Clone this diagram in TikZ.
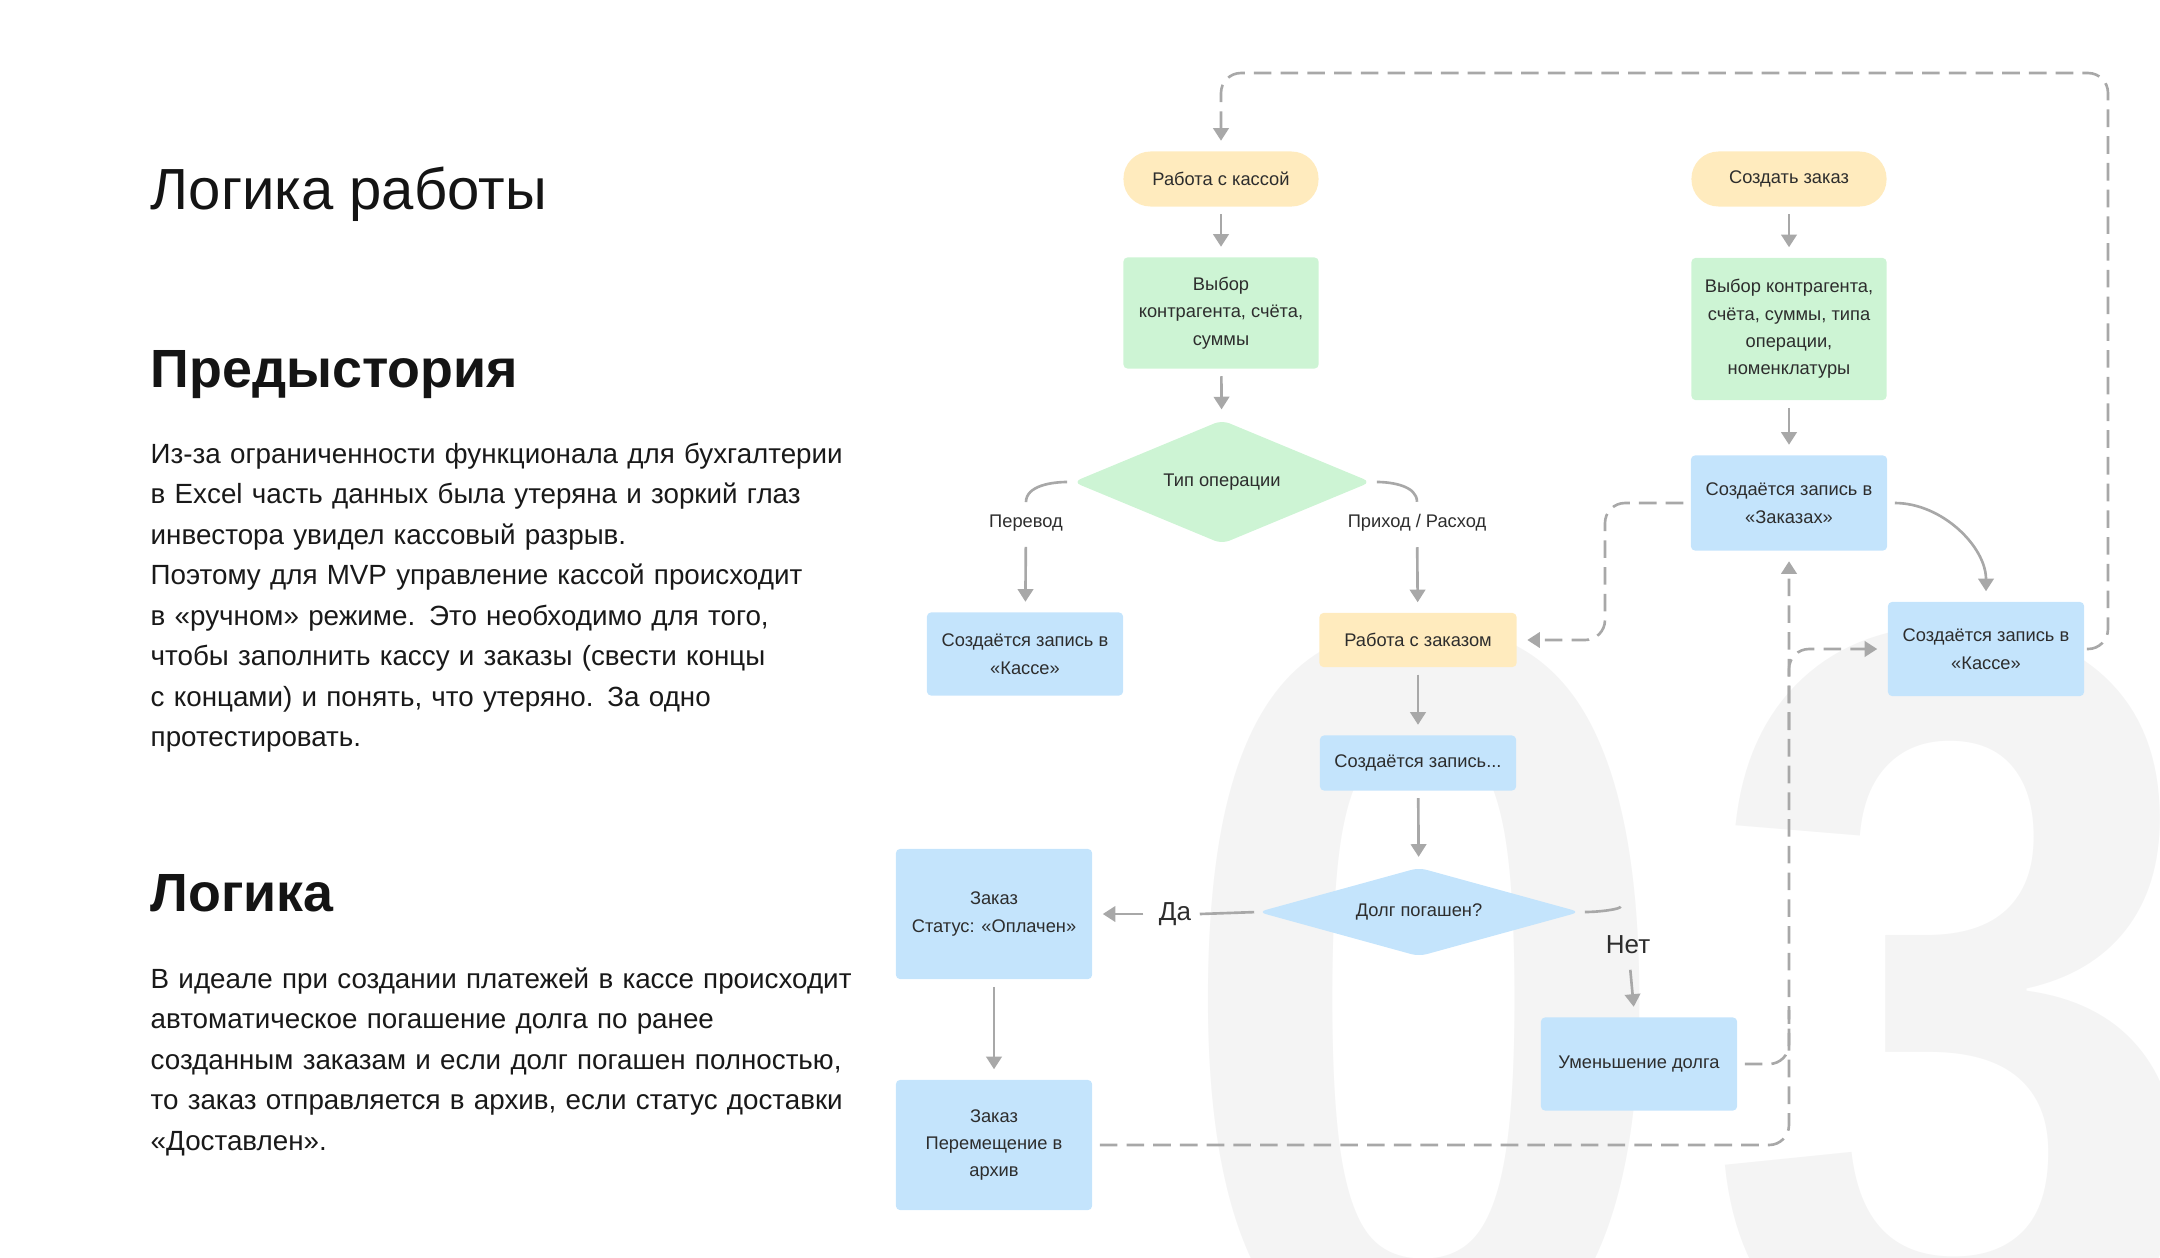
\documentclass[tikz,border=0pt]{standalone}
\usepackage{fontspec}
\setmainfont{Liberation Sans}
\usetikzlibrary{positioning,arrows.meta,shapes.geometric}
\definecolor{boxyellow}{RGB}{255,235,190}
\definecolor{boxgreen}{RGB}{205,244,212}
\definecolor{boxblue}{RGB}{196,228,252}
\definecolor{linkgray}{RGB}{168,168,168}
\definecolor{markgray}{RGB}{244,244,244}
\definecolor{inkdark}{RGB}{45,45,45}

\begin{document}
\begin{tikzpicture}[x=0.01cm, y=0.01cm,
  nodetxt/.style={font=\fontsize{5.2}{7.8}\selectfont, text=inkdark,
                  align=center, inner sep=0pt},
  startpill/.style={nodetxt, fill=boxyellow, rounded corners=0.27cm,
                    minimum width=1.95cm, minimum height=0.55cm},
  choosebox/.style={nodetxt, fill=boxgreen, rounded corners=0.04cm,
                    minimum width=1.95cm},
  recbox/.style={nodetxt, fill=boxblue, rounded corners=0.04cm,
                 minimum width=1.96cm},
  workbox/.style={nodetxt, fill=boxyellow, rounded corners=0.04cm,
                  minimum width=1.97cm, minimum height=0.54cm},
  decide/.style={nodetxt, diamond, rounded corners=0.08cm},
  lbl/.style={nodetxt, inner sep=0.08cm},
  biglbl/.style={font=\fontsize{7.4}{9}\selectfont, text=inkdark, inner sep=0.08cm},
  bodytxt/.style={font=\fontsize{7.9}{11.52}\selectfont, text=black!90,
                  text width=9cm, align=left, inner sep=0pt, anchor=base west},
  heading/.style={font=\fontsize{15.3}{18}\selectfont\bfseries, text=black!92,
                  inner sep=0pt, anchor=base west},
  link/.style={draw=linkgray, line width=0.75pt,
               -{Triangle[length=3.6pt, width=4.4pt]},
               shorten >=0.1cm, shorten <=0.07cm},
  plainlink/.style={draw=linkgray, line width=0.75pt},
  dashline/.style={plainlink, dash pattern=on 5pt off 2.6pt, rounded corners=0.2cm},
  dashlink/.style={link, dash pattern=on 5pt off 2.6pt, rounded corners=0.2cm},
]
\useasboundingbox (0,0) rectangle (2160,-1257);
%--- watermark
\begin{scope}
  \clip (0,0) rectangle (2160,-1257);
  \node[font=\fontsize{300}{300}\selectfont\bfseries, text=markgray,
        anchor=base west, inner sep=0pt, xscale=0.86] (mark) at (1172,-1362)
        {0\kern 9pt3};
\end{scope}
%--- left column
\node[font=\fontsize{16.5}{20}\selectfont, text=black!92, inner sep=0pt,
      anchor=base west] (title) at (150,-209) {Логика работы};
\node[heading] (hPre) at (150,-387) {Предыстория};
\node[bodytxt] (pPre) at (150,-463) {Из-за ограниченности функционала для бухгалтерии\\
  в Excel часть данных была утеряна и зоркий глаз\\
  инвестора увидел кассовый разрыв.\\
  Поэтому для MVP управление кассой происходит\\
  в «ручном» режиме. Это необходимо для того,\\
  чтобы заполнить кассу и заказы (свести концы\\
  с концами) и понять, что утеряно. За одно\\
  протестировать.};
\node[heading] (hLog) at (150,-911) {Логика};
\node[bodytxt] (pLog) at (150,-988) {В идеале при создании платежей в кассе происходит\\
  автоматическое погашение долга по ранее\\
  созданным заказам и если долг погашен полностью,\\
  то заказ отправляется в архив, если статус доставки\\
  «Доставлен».};
%--- cash branch
\node[startpill] (kassa) at (1221,-179) {Работа с кассой};
\node[choosebox, minimum height=1.11cm] (vyborK) at (1221,-313)
  {Выбор\\контрагента, счёта,\\суммы};
\node[decide, fill=boxgreen, minimum width=2.98cm, minimum height=1.24cm,
      aspect=2.4] (tipop) at (1222,-482) {Тип операции};
\node[lbl] (lPer) at (1026,-523) {Перевод};
\node[recbox, minimum height=0.83cm] (kasseL) at (1025,-654)
  {Создаётся запись в\\«Кассе»};
\node[lbl] (lPrih) at (1417,-523) {Приход / Расход};
\node[workbox] (rabZak) at (1418,-640) {Работа с заказом};
\node[recbox, minimum height=0.55cm] (zapis) at (1418,-763) {Создаётся запись...};
\node[decide, fill=boxblue, minimum width=3.22cm, minimum height=0.89cm,
      aspect=3.6] (dolg) at (1419,-912) {Долг погашен?};
\node[biglbl] (lDa) at (1175,-914) {Да};
\node[recbox, minimum height=1.3cm] (oplach) at (994,-914)
  {Заказ\\Статус: «Оплачен»};
\node[recbox, minimum height=1.3cm] (arhiv) at (994,-1145)
  {Заказ\\Перемещение в\\архив};
\node[biglbl] (lNet) at (1628,-945) {Нет};
\node[recbox, minimum height=0.93cm] (umen) at (1639,-1064) {Уменьшение долга};
%--- order branch
\node[startpill] (sozdat) at (1789,-179) {Создать заказ};
\node[choosebox, minimum height=1.42cm] (vyborZ) at (1789,-329)
  {Выбор контрагента,\\счёта, суммы, типа\\операции,\\номенклатуры};
\node[recbox, minimum height=0.95cm] (zapZak) at (1789,-503)
  {Создаётся запись в\\«Заказах»};
\node[recbox, minimum height=0.94cm] (kasseR) at (1986,-649)
  {Создаётся запись в\\«Кассе»};
%--- solid links
\draw[link] (kassa) -- (vyborK);
\draw[link] (vyborK) -- (tipop);
\draw[plainlink, shorten <=0.05cm, shorten >=0.04cm]
  (tipop.west) to[out=180,in=90] (lPer.north);
\draw[link] (lPer) -- (kasseL);
\draw[plainlink, shorten <=0.05cm, shorten >=0.04cm]
  (tipop.east) to[out=0,in=90] (lPrih.north);
\draw[link] (lPrih) -- (rabZak);
\draw[link] (rabZak) -- (zapis);
\draw[link] (zapis) -- (dolg);
\draw[plainlink, shorten <=0.03cm] (dolg.west) -- (lDa.east);
\draw[link] (lDa) -- (oplach);
\draw[plainlink, shorten <=0.04cm, shorten >=0.22cm]
  (dolg.east) to[out=0,in=110] (lNet.north);
\draw[link] (lNet) -- (umen);
\draw[link] (oplach) -- (arhiv);
\draw[link] (sozdat) -- (vyborZ);
\draw[link] (vyborZ) -- (zapZak);
\draw[link] (zapZak.east) to[out=0,in=90] (kasseR.north);
%--- dashed links
\coordinate (loopTop) at (2108,-73);
\coordinate (zakBend) at (1605,-503);
\coordinate (umenJoin) at (1789,-1010);
\coordinate (kasseJoin) at (1789,-730);
\draw[dashlink, shorten <=0.02cm] (kasseR.east) -| (loopTop) -| (kassa.north);
\draw[dashlink] (zapZak.west) -- (zakBend) |- (rabZak.east);
\draw[dashlink] (arhiv.east) -| (zapZak.south);
\draw[dashline, shorten <=0.07cm] (umen.east) -| (umenJoin);
\draw[dashlink, shorten <=0pt] (kasseJoin) |- (kasseR.west);
\end{tikzpicture}
\end{document}
